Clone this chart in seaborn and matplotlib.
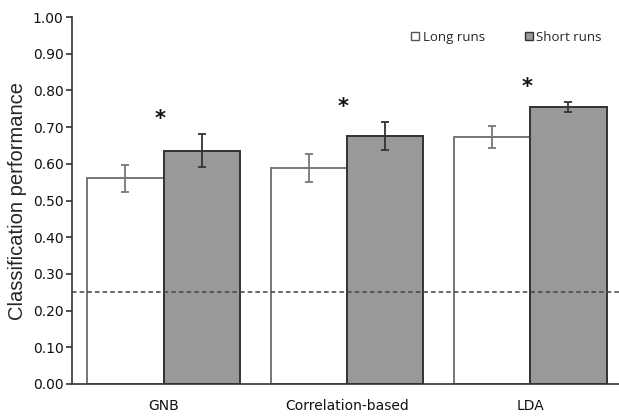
import numpy as np
import pandas as pd
import matplotlib.pyplot as plt
import seaborn as sns

# values
methods = ['GNB', 'Correlation-based', 'LDA']
long_runs = [0.561, 0.589, 0.673]
short_runs = [0.635, 0.676, 0.755]
long_err = [0.037, 0.039, 0.030]
short_err = [0.045, 0.037, 0.013]
chance = 0.25

data = pd.DataFrame({
    'method': methods * 2,
    'score': long_runs + short_runs,
    'run': ['Long runs'] * 3 + ['Short runs'] * 3,
})

sns.set_style("white")
plt.rcParams['font.family'] = ['DejaVu Sans']

fig = plt.figure(figsize=(6.19, 4.16), dpi=100)
ax = fig.add_axes([0.116, 0.077, 0.889, 0.882])

sns.barplot(x='method', y='score', hue='run', data=data, ax=ax,
            palette={'Long runs': 'white', 'Short runs': '#999999'},
            width=0.83, errorbar=None, legend=True)

# bar edges
for cont, ec in zip(ax.containers, ['#777777', '#333333']):
    for p in cont:
        p.set_edgecolor(ec)
        p.set_linewidth(1.4)

# error bars and significance stars, placed on the drawn bars
for cont, errs, ec in zip(ax.containers, [long_err, short_err], ['#777777', '#333333']):
    xs = [p.get_x() + p.get_width() / 2 for p in cont]
    ys = [p.get_height() for p in cont]
    ax.errorbar(xs, ys, yerr=errs, fmt='none', ecolor=ec, elinewidth=1.3,
                capsize=3, capthick=1.3)

for i, (s, e) in enumerate(zip(short_runs, short_err)):
    ax.text(i - 0.02, s + e + 0.015, '*', ha='center', va='bottom', fontsize=15,
            fontweight='bold', color='#111111')

ax.axhline(chance, color='#444444', linestyle=(0, (3, 2)), linewidth=1.1, zorder=5)

ax.set_ylim(0, 1.0)
ax.set_xlim(-0.5, 2.5)
ax.set_yticks(np.arange(0, 1.01, 0.1))
ax.set_yticklabels([f'{v:.2f}' for v in np.arange(0, 1.01, 0.1)], fontsize=10, color='#111111')
ax.set_xticks(range(3))
ax.set_xticklabels(methods, fontsize=10, color='#111111')
ax.set_xticks([0.5, 1.5], minor=True)
ax.tick_params(axis='x', which='major', length=0, pad=11)
ax.tick_params(axis='x', which='minor', length=4, width=1.2, color='#333333', direction='out')
ax.tick_params(axis='y', length=4, width=1.2, color='#333333', direction='out', left=True, pad=2)
ax.set_xlabel('')
ax.set_ylabel('Classification performance', fontsize=14.5, family='Liberation Sans',
              labelpad=4)

sns.despine(ax=ax)
for sp in ['left', 'bottom']:
    ax.spines[sp].set_color('#333333')
    ax.spines[sp].set_linewidth(1.2)

handles, labels = ax.get_legend_handles_labels()
for h, ec in zip(handles, ['#555555', '#333333']):
    h.set_edgecolor(ec)
    h.set_linewidth(1.0)
ax.legend(handles, labels, ncol=2, frameon=False, loc='upper right',
          bbox_to_anchor=(0.985, 0.995), handlelength=0.6, handleheight=0.6,
          handletextpad=0.3, columnspacing=3.0, prop={'family': 'Open Sans', 'size': 9.5})

plt.savefig('out.png', dpi=100)
